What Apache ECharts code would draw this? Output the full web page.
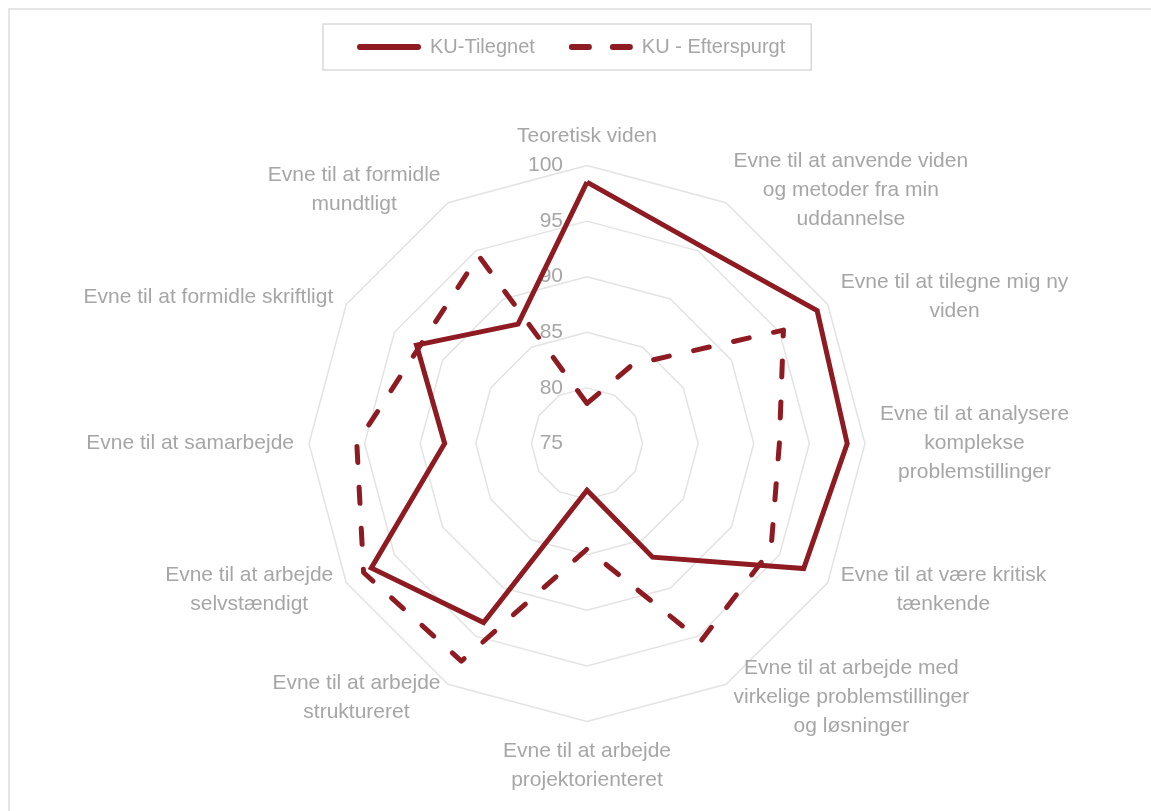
<!DOCTYPE html>
<html>
<head>
<meta charset="utf-8">
<script src="https://cdn.jsdelivr.net/npm/echarts@6/dist/echarts.min.js"></script>
<style>
  html, body { margin: 0; padding: 0; background: #fff; }
  #frame {
    position: absolute; left: 8px; top: 8px; width: 1143px; height: 803px;
    border-top: 2px solid #e6e6e6; border-left: 2px solid #e6e6e6;
    box-sizing: border-box;
  }
  #ChartDom { position: absolute; left: 0; top: 0; width: 1151px; height: 811px; }
</style>
</head>
<body>
<div id="frame"></div>
<div id="ChartDom"></div>
<script>
// categories in the picture's clockwise order, starting at the top
const categories = [
  "Teoretisk viden",
  "Evne til at anvende viden\nog metoder fra min\nuddannelse",
  "Evne til at tilegne mig ny\nviden",
  "Evne til at analysere\nkomplekse\nproblemstillinger",
  "Evne til at være kritisk\ntænkende",
  "Evne til at arbejde med\nvirkelige problemstillinger\nog løsninger",
  "Evne til at arbejde\nprojektorienteret",
  "Evne til at arbejde\nstruktureret",
  "Evne til at arbejde\nselvstændigt",
  "Evne til at samarbejde",
  "Evne til at formidle skriftligt",
  "Evne til at formidle\nmundtligt",
]
const seriesNames = ["KU-Tilegnet", "KU - Efterspurgt"]
const tilegnet = [98.5, 95.5, 98.9, 98.4, 97.5, 86.8, 79.2, 93.6, 97.4, 87.8, 92.7, 87.4]
const efterspurgt = [78.6, 83.2, 95.4, 92.3, 94.1, 95.5, 84.5, 97.6, 98.2, 95.7, 92.4, 94.5]
const axisMin = 75
const axisMax = 100

const red = "#8e1b21"
const grey = "#a6a6a6"
const font = "Liberation Sans, Arial, sans-serif"

// echarts lays radar indicators out counter-clockwise, so flip the order
const order = [0].concat(categories.map((c, i) => i).slice(1).reverse())
const pick = (arr) => order.map((i) => arr[i])

const indicator = pick(categories).map((name, i) => {
  const ind = { name: name, min: axisMin, max: axisMax }
  if (i === 0) {
    ind.axisLabel = { show: true }
  }
  return ind
})

const chartDom = document.getElementById("ChartDom")
const myChart = echarts.init(chartDom)
const option = {
  animation: false,
  legend: {
    left: 323,
    top: 24,
    padding: [13, 26, 13, 34],
    itemGap: 34,
    itemWidth: 66,
    itemHeight: 6,
    borderColor: "#d9d9d9",
    borderWidth: 1.5,
    textStyle: { color: grey, fontSize: 20, fontFamily: font, padding: [0, 0, 0, 3] },
    data: [
      { name: seriesNames[0], icon: "path://M3,0H61A3,3,0,0,1,61,6H3A3,3,0,0,1,3,0Z" },
      {
        name: seriesNames[1],
        icon: "path://M3,0H20A3,3,0,0,1,20,6H3A3,3,0,0,1,3,0Z M44,0H61A3,3,0,0,1,61,6H44A3,3,0,0,1,44,0Z",
      },
    ],
  },
  radar: {
    center: [587, 443.5],
    radius: 278,
    shape: "polygon",
    splitNumber: 5,
    startAngle: 90,
    axisNameGap: 15,
    indicator: indicator,
    axisName: {
      color: grey,
      fontSize: 21,
      fontFamily: font,
      lineHeight: 29,
      formatter: (value) =>
        value
          .split("\n")
          .map((line) => "{c|" + line + "}")
          .join("\n"),
      rich: {
        c: { align: "center", color: grey, fontSize: 21, fontFamily: font, lineHeight: 29 },
      },
    },
    axisLine: { show: false },
    axisTick: { show: false },
    axisLabel: {
      show: false,
      color: grey,
      fontSize: 21,
      fontFamily: font,
      margin: 24,
    },
    splitArea: { show: false },
    splitLine: {
      lineStyle: { color: "#e3e3e3", width: 1.5 },
    },
  },
  series: [
    {
      type: "radar",
      symbol: "none",
      data: [
        {
          name: seriesNames[0],
          value: pick(tilegnet),
          itemStyle: { color: red },
          lineStyle: { color: red, width: 5, join: "miter" },
        },
        {
          name: seriesNames[1],
          value: pick(efterspurgt),
          itemStyle: { color: red },
          lineStyle: { color: red, width: 5, type: [16, 25], cap: "round" },
        },
      ],
    },
  ],
}
myChart.setOption(option)
</script>
</body>
</html>
